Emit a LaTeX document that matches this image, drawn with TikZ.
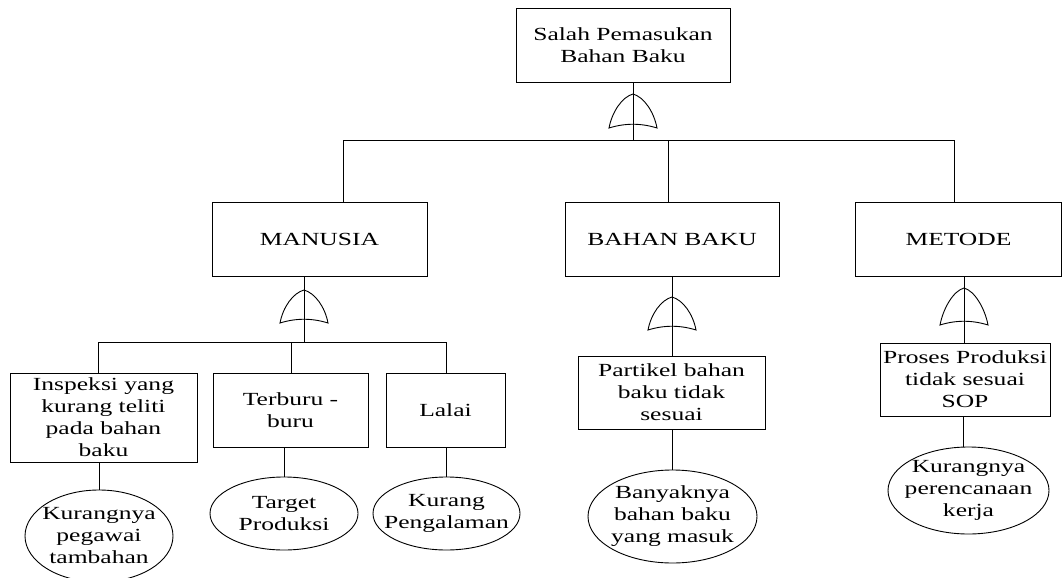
\documentclass[tikz,border=0pt]{standalone}
\usepackage{fontspec}
\setmainfont{Liberation Serif}[FakeStretch=1.38]
\usetikzlibrary{shapes.geometric}

% OR gate: centre x, top y, bottom y (picture units, y downwards)
\newcommand\orgate[3]{%
  \draw (#1-24,#3) .. controls (#1-21,#3-16) and (#1-11,#2+3) .. (#1,#2)
        .. controls (#1+11,#2+3) and (#1+21,#3-16) .. (#1+24,#3)
        .. controls (#1+8,#3-5) and (#1-8,#3-5) .. cycle;}

\begin{document}
\begin{tikzpicture}[x=1pt,y=-1pt,line width=0.9pt,
  every node/.style={font=\fontsize{18.5}{22}\selectfont},
  box/.style={draw,rectangle,inner sep=0pt,align=center},
  oval/.style={draw,ellipse,inner sep=0pt},
  lbl/.style={align=center,inner sep=0pt}]
\useasboundingbox (0,0) rectangle (1063,578);

% top event
\node[box,minimum width=214,minimum height=74] (top) at (623,45) {Salah Pemasukan\\Bahan Baku};

% intermediate events
\node[box,minimum width=215,minimum height=74] (man) at (319.5,239) {MANUSIA};
\node[box,minimum width=214,minimum height=74] (bah) at (672,239) {BAHAN BAKU};
\node[box,minimum width=206,minimum height=74] (met) at (958.5,239) {METODE};

% causes
\node[box,minimum width=187,minimum height=89] (insp) at (103.5,417.5) {Inspeksi yang\\kurang teliti\\pada bahan\\baku};
\node[box,minimum width=155,minimum height=74] (terb) at (290.5,410) {Terburu -\\buru};
\node[box,minimum width=119,minimum height=74] (lalai) at (445.5,410) {Lalai};
\node[box,minimum width=187,minimum height=73] (part) at (671.5,392.5) {Partikel bahan\\baku tidak\\sesuai};
\node[box,minimum width=170,minimum height=73] (proc) at (965,379.5) {Proses Produksi\\tidak sesuai\\SOP};

% basic events
\node[oval,minimum width=148,minimum height=92,label={[lbl]center:Kurangnya\\pegawai\\tambahan}] (kp) at (99,536) {};
\node[oval,minimum width=148,minimum height=73,label={[lbl]center:Target\\Produksi}] (tp) at (284,513.5) {};
\node[oval,minimum width=147,minimum height=73,label={[lbl]center:Kurang\\Pengalaman}] (kpg) at (446.5,513.5) {};
\node[oval,minimum width=169,minimum height=93,label={[lbl]center:Banyaknya\\bahan baku\\yang masuk}] (bbm) at (672.5,516.5) {};
\node[oval,minimum width=161,minimum height=87,label={[lbl]center:Kurangnya\\perencanaan\\kerja}] (kpk) at (968.5,490.5) {};

% junction points
\coordinate (g0) at (633,140);
\coordinate (busL) at (343,140);
\coordinate (busM) at (668,140);
\coordinate (busR) at (954,140);
\coordinate (g1) at (304,342);
\coordinate (bus1L) at (98,342);
\coordinate (bus1M) at (291,342);
\coordinate (bus1R) at (446,342);
\coordinate (g3) at (964,0);
\coordinate (m3) at (963,447);

% top level
\draw (top.south -| g0) -- (g0);
\draw (man.north -| busL) -- (busL) -- (busR) -- (met.north -| busR);
\draw (busM) -- (bah.north -| busM);
\orgate{633}{94}{128}

% MANUSIA branch
\draw (man.south -| g1) -- (g1);
\draw (insp.north -| bus1L) -- (bus1L) -- (bus1R) -- (lalai.north -| bus1R);
\draw (bus1M) -- (terb.north -| bus1M);
\orgate{304}{290}{323}
\draw (insp.south -| kp.north) -- (kp.north);
\draw (terb.south -| tp.north) -- (tp.north);
\draw (lalai.south -| kpg.north) -- (kpg.north);

% BAHAN BAKU branch
\draw (bah.south) -- (part.north -| bah.south);
\orgate{672}{297}{330}
\draw (part.south -| bbm.north) -- (bbm.north);

% METODE branch
\draw (met.south -| g3) -- (proc.north -| g3);
\orgate{964}{288}{325}
\draw (proc.south -| m3) -- (m3);
\end{tikzpicture}
\end{document}
